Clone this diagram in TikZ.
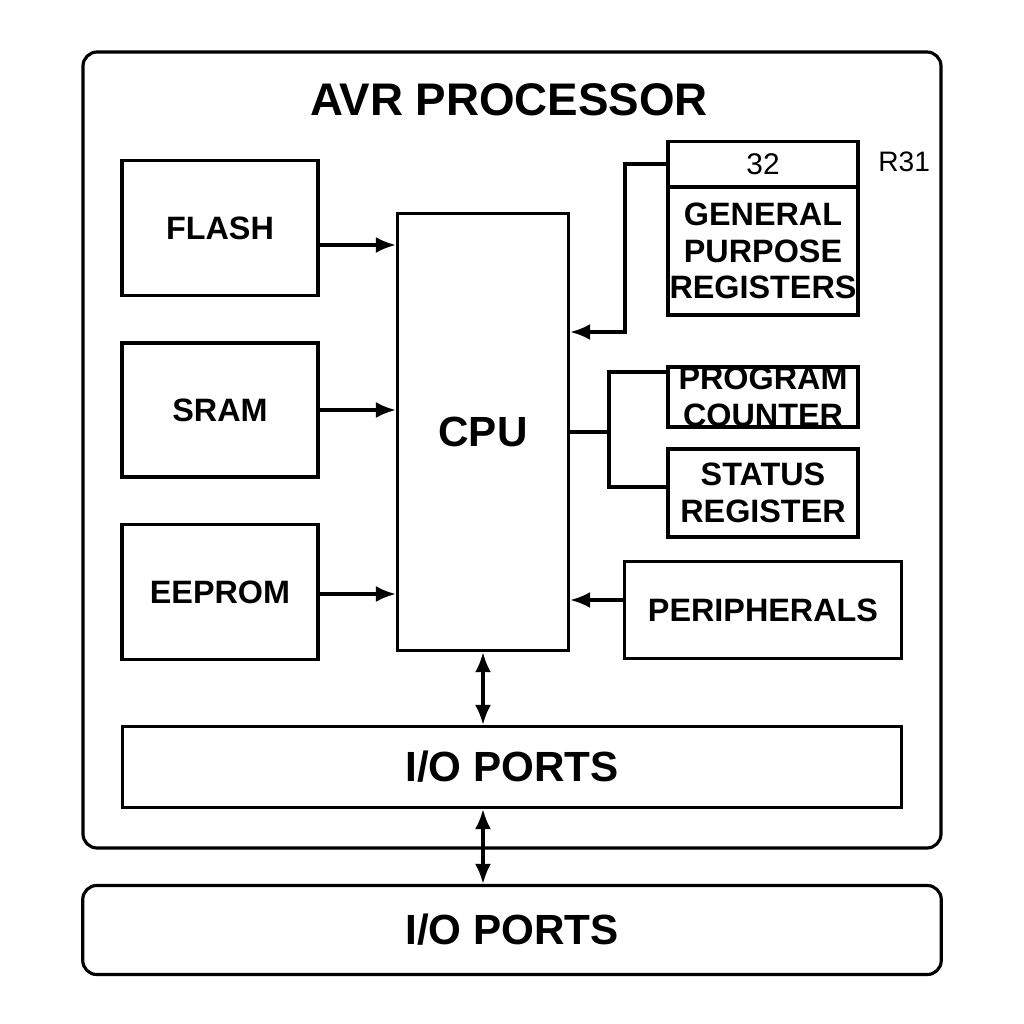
\documentclass[tikz,border=0pt]{standalone}
\usepackage{fontspec}
\setmainfont{Liberation Sans}
\usetikzlibrary{positioning, arrows.meta}
\tikzset{
  blk/.style  = {draw, line width=0.9pt, inner sep=0pt, font=\bfseries\fontsize{9.2}{10.4}\selectfont, align=center},
  big/.style  = {font=\bfseries\fontsize{12}{14}\selectfont},
  con/.style  = {draw, line width=0.9pt},
  ->/.style   = {draw, line width=0.9pt, -{Latex[length=2mm,width=1.6mm]}},
  <->/.style  = {draw, line width=0.9pt, {Latex[length=2mm,width=1.6mm]}-{Latex[length=2mm,width=1.6mm]}}
}
\begin{document}
\begin{tikzpicture}[x=0.01cm, y=-0.01cm]
\useasboundingbox (0,0) rectangle (1024,1024);

% frames
\draw [line width=0.9pt, rounded corners=4pt] (83,52) rectangle (941,848);
\node [font=\bfseries\fontsize{13}{15}\selectfont] at (509,100) (title) {AVR PROCESSOR};

% memories
\node [blk, minimum width=1.96cm, minimum height=1.35cm] at (220,228) (flash)  {FLASH};
\node [blk, minimum width=1.96cm, minimum height=1.34cm] at (220,410) (sram)   {SRAM};
\node [blk, minimum width=1.96cm, minimum height=1.35cm] at (220,592) (eeprom) {EEPROM};

% cpu
\node [blk, big, minimum width=1.71cm, minimum height=4.37cm] at (483,432) (cpu) {CPU};

% registers
\node [blk, minimum width=1.90cm, minimum height=0.45cm, font=\fontsize{8.5}{10}\selectfont] at (763,164) (num) {32};
\node [blk, minimum width=1.90cm, minimum height=1.28cm] at (763,251) (gpr) {GENERAL\\PURPOSE\\REGISTERS};
\node [font=\fontsize{8}{10}\selectfont, anchor=west] at (866,162) (r31) {R31};
\node [blk, minimum width=1.90cm, minimum height=0.60cm] at (763,397) (pc) {PROGRAM\\COUNTER};
\node [blk, minimum width=1.90cm, minimum height=0.88cm] at (763,493) (sreg) {STATUS\\REGISTER};
\node [blk, minimum width=2.77cm, minimum height=0.97cm] at (763,610) (per) {PERIPHERALS};

% ports
\node [blk, big, minimum width=7.79cm, minimum height=0.81cm] at (512,767) (io) {I/O PORTS};
\node [blk, big, rounded corners=4pt, minimum width=8.58cm, minimum height=0.89cm] at (512,930) (ext) {I/O PORTS};

% connectors
\draw [->] (flash.east |- 0,245)  -- (cpu.west |- 0,245);
\draw [->] (sram.east)            -- (cpu.west |- sram.east);
\draw [->] (eeprom.east |- 0,594) -- (cpu.west |- 0,594);
\draw [->] (num.west) -| (625,332) -- (cpu.east |- 0,332);
\draw [con] (cpu.east) -- (609,432);
\draw [con] (pc.west |- 0,372) -| (609,487) -- (sreg.west |- 0,487);
\draw [->] (per.west |- 0,600) -- (cpu.east |- 0,600);
\draw [<->] (cpu.south) -- (io.north -| cpu.south);
\draw [<->] (io.south -| cpu.south) -- (ext.north -| cpu.south);

\end{tikzpicture}
\end{document}
